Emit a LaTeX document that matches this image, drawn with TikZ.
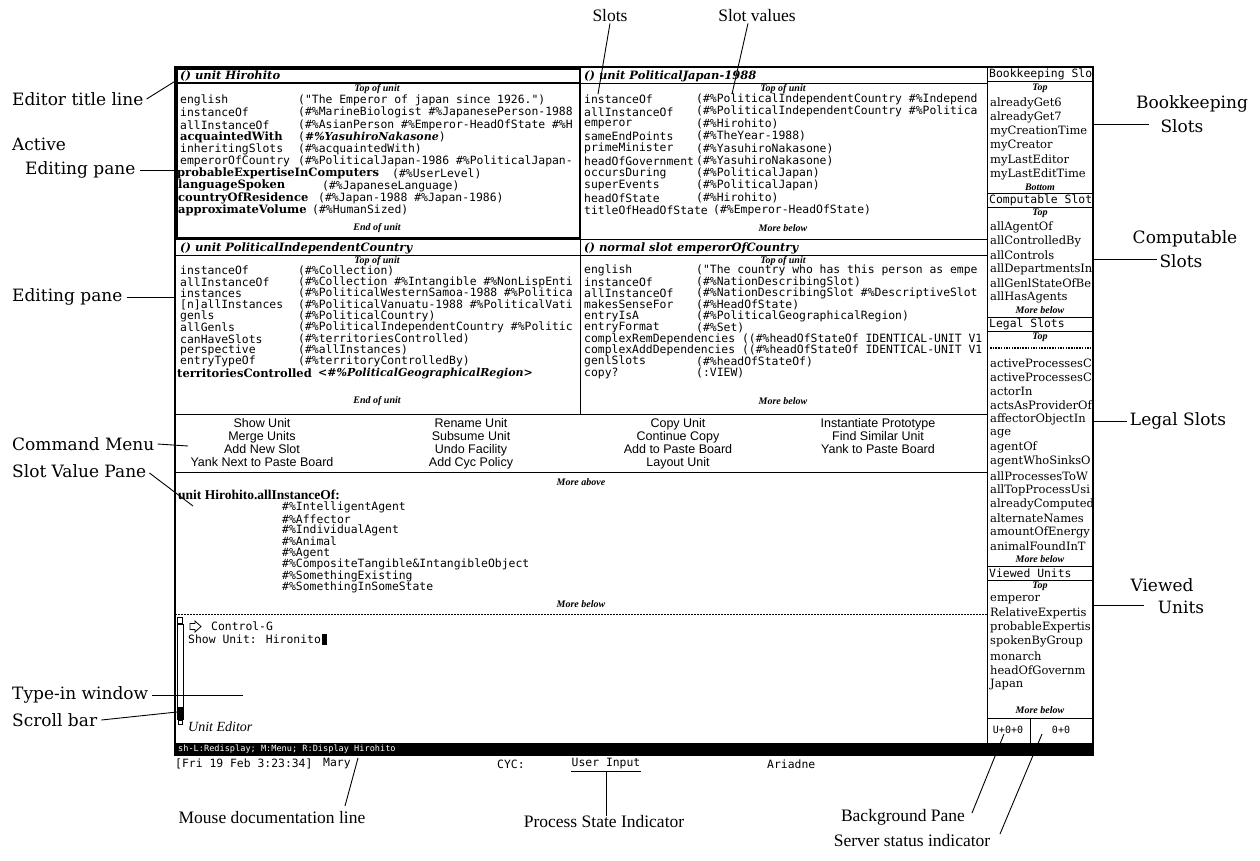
\documentclass[tikz,border=0pt]{standalone}
\usepackage{fontspec}
\setmainfont{Liberation Serif}
\newfontfamily\codefont{DejaVu Sans Mono}
\newfontfamily\menufont{Liberation Sans}
\newfontfamily\wideserif{DejaVu Serif}
\newcommand{\mycode}{\codefont\fontsize{11.4}{12}\selectfont}
\newcommand{\mybi}{\wideserif\bfseries\itshape\fontsize{11}{12}\selectfont}
\usetikzlibrary{calc}
\tikzset{
  code/.style={font=\codefont\fontsize{11.4}{12}\selectfont, anchor=west, inner sep=0pt},
  bslot/.style={font=\wideserif\bfseries\fontsize{11.5}{12}\selectfont, anchor=west, inner sep=0pt},
  ttl/.style={font=\wideserif\bfseries\itshape\fontsize{11.5}{12}\selectfont, anchor=west, inner sep=0pt},
  paneinfo/.style={font=\bfseries\itshape\fontsize{10}{11}\selectfont, inner sep=0pt},
  rcitem/.style={font=\wideserif\fontsize{11.5}{12}\selectfont, anchor=west, inner sep=0pt},
  menuitem/.style={font=\menufont\fontsize{12.5}{13}\selectfont, inner sep=0pt, text height=8.8pt, text depth=2.2pt},
  widelbl/.style={font=\wideserif\fontsize{17}{20}\selectfont, inner sep=0pt},
  lbl/.style={font=\fontsize{17.5}{20}\selectfont, inner sep=0pt},
  conn/.style={line width=0.9pt},
  rule/.style={line width=1pt},
}
\begin{document}
\begin{tikzpicture}[x=1pt,y=-1pt]
\useasboundingbox (0,0) rectangle (1260,860);
\fill[white] (0,0) rectangle (1260,860);

% ---------------- screen frame ----------------
\draw[line width=1.2pt] (175,67) rectangle (1093,755);
\draw[rule] (987,67) -- (987,743);
\draw[rule] (175,239) -- (987,239);
\draw[rule] (580,239) -- (580,414);
\draw[rule] (175,255) -- (987,255);
\draw[rule] (175,414) -- (987,414);
\draw[rule] (175,472) -- (987,472);
\draw[line width=1pt, dash pattern=on 2pt off 1pt] (175,614) -- (987,614);
\draw[rule] (580,83) -- (987,83);
\draw[line width=2.6pt] (176.3,68.3) rectangle (580,238);
\draw[line width=2pt] (176,83) -- (580,83);

% ---------------- pane titles ----------------
\node[ttl] (t1) at (180,76) {() unit Hirohito};
\node[ttl] (t2) at (584,76) {() unit PoliticalJapan-1988};
\node[ttl] (t3) at (180,248) {() unit PoliticalIndependentCountry};
\node[ttl] (t4) at (584,248) {() normal slot emperorOfCountry};

\node[paneinfo] (p1top) at (377,89) {Top of unit};
\node[paneinfo] (p1end) at (377,228) {End of unit};
\node[paneinfo] (p2top) at (783,89) {Top of unit};
\node[paneinfo] (p2end) at (783,228) {More below};
\node[paneinfo] (p3top) at (377,261) {Top of unit};
\node[paneinfo] (p3end) at (377,401) {End of unit};
\node[paneinfo] (p4top) at (783,261) {Top of unit};
\node[paneinfo] (p4end) at (783,401) {More below};

% ---------------- active pane: Hirohito ----------------
\begin{scope}
\clip (177,85) rectangle (579,237);
\foreach \i/\n/\v in {0/english/{("The Emperor of japan since 1926.")},1/instanceOf/{(\#\%MarineBiologist \#\%JapanesePerson-1988},2/allInstanceOf/{(\#\%AsianPerson \#\%Emperor-HeadOfState \#\%H},4/inheritingSlots/{(\#\%acquaintedWith)},5/emperorOfCountry/{(\#\%PoliticalJapan-1986 \#\%PoliticalJapan-}}{
  \node[code] (an\i) at (180,100.5+12.2*\i) {\n};
  \node[code] (av\i) at (298,100.5+12.2*\i) {\v};
}
\node[bslot] (an3) at (180,100.5+12.2*3) {acquaintedWith};
\node[code] (av3) at (298,100.5+12.2*3) {({\mybi\#\%YasuhiroNakasone})};
\node[bslot] (an6) at (177,100.5+12.2*6) {probableExpertiseInComputers};
\node[code] (av6) at (392,100.5+12.2*6) {(\#\%UserLevel)};
\node[bslot] (an7) at (178,100.5+12.2*7) {languageSpoken};
\node[code] (av7) at (322,100.5+12.2*7) {(\#\%JapaneseLanguage)};
\node[bslot] (an8) at (178,100.5+12.2*8) {countryOfResidence};
\node[code] (av8) at (318,100.5+12.2*8) {(\#\%Japan-1988 \#\%Japan-1986)};
\node[bslot] (an9) at (178,100.5+12.2*9) {approximateVolume};
\node[code] (av9) at (312,100.5+12.2*9) {(\#\%HumanSized)};
\end{scope}

% ---------------- pane: PoliticalJapan-1988 ----------------
\begin{scope}
\clip (581,85) rectangle (986,237);
\foreach \i/\n/\v in {0/instanceOf/{(\#\%PoliticalIndependentCountry \#\%Independ},1/allInstanceOf/{(\#\%PoliticalIndependentCountry \#\%Politica},2/emperor/{(\#\%Hirohito)},3/sameEndPoints/{(\#\%TheYear-1988)},4/primeMinister/{(\#\%YasuhiroNakasone)},5/headOfGovernment/{(\#\%YasuhiroNakasone)},6/occursDuring/{(\#\%PoliticalJapan)},7/superEvents/{(\#\%PoliticalJapan)},8/headOfState/{(\#\%Hirohito)}}{
  \node[code] (bn\i) at (584,99.5+12.3*\i) {\n};
  \node[code] (bv\i) at (696,99.5+12.3*\i) {\v};
}
\node[code] (bn9) at (584,99.5+12.3*9) {titleOfHeadOfState};
\node[code] (bv9) at (713,99.5+12.3*9) {(\#\%Emperor-HeadOfState)};
\end{scope}

% ---------------- pane: PoliticalIndependentCountry ----------------
\begin{scope}
\clip (177,257) rectangle (579,413);
\foreach \i/\n/\v in {0/instanceOf/{(\#\%Collection)},1/allInstanceOf/{(\#\%Collection \#\%Intangible \#\%NonLispEnti},2/instances/{(\#\%PoliticalWesternSamoa-1988 \#\%Politica},3/{[n]allInstances}/{(\#\%PoliticalVanuatu-1988 \#\%PoliticalVati},4/genls/{(\#\%PoliticalCountry)},5/allGenls/{(\#\%PoliticalIndependentCountry \#\%Politic},6/canHaveSlots/{(\#\%territoriesControlled)},7/perspective/{(\#\%allInstances)},8/entryTypeOf/{(\#\%territoryControlledBy)}}{
  \node[code] (cn\i) at (180,270.5+11.4*\i) {\n};
  \node[code] (cv\i) at (298,270.5+11.4*\i) {\v};
}
\node[bslot] (cn9) at (177,270.5+11.4*9) {territoriesControlled};
\node[anchor=west, inner sep=0pt, font=\mybi] (cv9) at (318,270.5+11.4*9) {<\#\%PoliticalGeographicalRegion>};
\end{scope}

% ---------------- pane: normal slot emperorOfCountry ----------------
\begin{scope}
\clip (581,257) rectangle (986,413);
\foreach \i/\n/\v in {0/english/{("The country who has this person as empe},1/instanceOf/{(\#\%NationDescribingSlot)},2/allInstanceOf/{(\#\%NationDescribingSlot \#\%DescriptiveSlot},3/makesSenseFor/{(\#\%HeadOfState)},4/entryIsA/{(\#\%PoliticalGeographicalRegion)},5/entryFormat/{(\#\%Set)},8/genlSlots/{(\#\%headOfStateOf)},9/copy?/{(:VIEW)}}{
  \node[code] (dn\i) at (584,270.5+11.4*\i) {\n};
  \node[code] (dv\i) at (696,270.5+11.4*\i) {\v};
}
\node[code] (dn6) at (584,270.5+11.4*6) {complexRemDependencies ((\#\%headOfStateOf IDENTICAL-UNIT V1};
\node[code] (dn7) at (584,270.5+11.4*7) {complexAddDependencies ((\#\%headOfStateOf IDENTICAL-UNIT V1};
\end{scope}

% ---------------- command menu ----------------
\foreach \t [count=\i from 0] in {Show Unit,Merge Units,Add New Slot,Yank Next to Paste Board}
  \node[menuitem] (ca\i) at (262,424.5+13*\i) {\t};
\foreach \t [count=\i from 0] in {Rename Unit,Subsume Unit,Undo Facility,Add Cyc Policy}
  \node[menuitem] (cb\i) at (471,424.5+13*\i) {\t};
\foreach \t [count=\i from 0] in {Copy Unit,Continue Copy,Add to Paste Board,Layout Unit}
  \node[menuitem] (cc\i) at (678,424.5+13*\i) {\t};
\foreach \t [count=\i from 0] in {Instantiate Prototype,Find Similar Unit,Yank to Paste Board}
  \node[menuitem] (cd\i) at (878,424.5+13*\i) {\t};

% ---------------- slot value pane ----------------
\node[paneinfo] (svabove) at (581,482) {More above};
\node[font=\bfseries\fontsize{13.5}{14}\selectfont, anchor=west, inner sep=0pt] (svhead) at (178,495) {unit Hirohito.allInstanceOf:};
\foreach \t [count=\i from 0] in {IntelligentAgent,Affector,IndividualAgent,Animal,Agent,CompositeTangible\&IntangibleObject,SomethingExisting,SomethingInSomeState}
  \node[code] (sv\i) at (282,507.5+11.4*\i) {\#\%\t};
\node[paneinfo] (svbelow) at (581,604) {More below};

% ---------------- type-in window ----------------
\draw[line width=0.6pt] (177,617) rectangle (182,623);
\draw[line width=0.6pt] (177.5,624) rectangle (183,707);
\fill (177,707) rectangle (184,720);
\draw[line width=0.6pt] (178,720) rectangle (182,724);
\draw[line width=0.8pt, fill=white] (190,623.5) -- (195,623.5) -- (195,621) -- (201,626.5) -- (195,632) -- (195,629.5) -- (190,629.5) -- cycle;
\node[code] (ctrlg) at (211,626.5) {Control-G};
\node[code] (showu) at (188,639.5) {Show Unit: Hironito};
\fill (322,633.5) rectangle (327,645);
\node[font=\itshape\fontsize{14}{15}\selectfont, anchor=west, inner sep=0pt] (uedit) at (188,727) {Unit Editor};

% ---------------- mouse documentation bar + status line ----------------
\fill[black] (175,743) rectangle (1093,755);
\node[font=\codefont\fontsize{8.6}{9}\selectfont, text=white, anchor=west, inner sep=0pt] (mdoc) at (178,749) {sh-L:Redisplay; M:Menu; R:Display Hirohito};
\node[code] (date) at (175,764) {[Fri 19 Feb 3:23:34]};
\node[code] (mary) at (323,764) {Mary};
\node[code] (cyc) at (497,764) {CYC:};
\node[code, anchor=center] (uinput) at (606,764) {User Input};
\draw[line width=1pt] (uinput.south west |- 0,771) -- (uinput.south east |- 0,771);
\node[code] (ariadne) at (767,764) {Ariadne};

% ---------------- right column ----------------
\begin{scope}
\clip (988,68) rectangle (1092,742);
\node[code] (bkt) at (989,74) {Bookkeeping Slo};
\node[paneinfo] (bktop) at (1040,88.5) {Top};
\foreach \t [count=\i from 0] in {alreadyGet6,alreadyGet7,myCreationTime,myCreator,myLastEditor,myLastEditTime}
  \node[rcitem] (bk\i) at (990,103.3+14.2*\i) {\t};
\node[paneinfo] (bkbot) at (1040,187) {Bottom};

\node[code] (cpt) at (989,200) {Computable Slot};
\node[paneinfo] (cptop) at (1040,213.5) {Top};
\foreach \t [count=\i from 0] in {allAgentOf,allControlledBy,allControls,allDepartmentsIn,allGenlStateOfBe,allHasAgents}
  \node[rcitem] (cp\i) at (990,227+14.1*\i) {\t};
\node[paneinfo] (cpmore) at (1040,310) {More below};

\node[code] (lgt) at (989,324) {Legal Slots};
\node[paneinfo] (lgtop) at (1040,337) {Top};
\foreach \t [count=\i from 0] in {activeProcessesC,activeProcessesC,actorIn,actsAsProviderOf,affectorObjectIn,age,agentOf,agentWhoSinksO,allProcessesToW,allTopProcessUsi,alreadyComputed,alternateNames,amountOfEnergy,animalFoundInT}
  \node[rcitem] (lg\i) at (990,363+14.1*\i) {\t};
\node[paneinfo] (lgmore) at (1040,559.5) {More below};

\node[code] (vwt) at (989,573) {Viewed Units};
\node[paneinfo] (vwtop) at (1040,586) {Top};
\foreach \t [count=\i from 0] in {emperor,RelativeExpertis,probableExpertis,spokenByGroup,monarch,headOfGovernm,Japan}
  \node[rcitem] (vw\i) at (990,599.5+14.1*\i) {\t};
\node[paneinfo] (vwmore) at (1040,710) {More below};
\end{scope}
\draw[rule] (987,81) -- (1093,81);
\draw[rule] (987,193) -- (1093,193);
\draw[rule] (987,207) -- (1093,207);
\draw[rule] (987,317) -- (1093,317);
\draw[rule] (987,331) -- (1093,331);
\draw[line width=2pt, dash pattern=on 1.5pt off 1.2pt] (990,348) -- (1091,348);
\draw[rule] (987,566) -- (1093,566);
\draw[rule] (987,580) -- (1093,580);
\draw[rule] (987,718) -- (1093,718);
\draw[rule] (1030,718) -- (1030,743);
\node[font=\codefont\fontsize{10}{11}\selectfont, inner sep=0pt] (sv1) at (1008,730) {U+0+0};
\node[font=\codefont\fontsize{10}{11}\selectfont, inner sep=0pt] (sv2) at (1061,730) {0+0};

% ---------------- left labels ----------------
\node[widelbl, anchor=west] (etl) at (12,99) {Editor title line};
\coordinate (etlE) at (177,80);
\draw[conn] ([xshift=3pt]etl.east) -- (etlE);
\node[widelbl, anchor=west] (aep1) at (12,144) {Active};
\node[widelbl, anchor=west] (aep2) at (25,170) {Editing pane};
\coordinate (aepE) at (176,170);
\draw[conn] ([xshift=4pt]aep2.east) -- (aepE);
\node[widelbl, anchor=west] (epl) at (12,297) {Editing pane};
\coordinate (eplE) at (176,297);
\draw[conn] ([xshift=4pt]epl.east) -- (eplE);
\node[widelbl, anchor=west] (cml) at (12,444) {Command Menu};
\coordinate (cmlE) at (188,446);
\draw[conn] ([xshift=3pt]cml.east) -- (cmlE);
\node[widelbl, anchor=west] (svpl) at (12,471) {Slot Value Pane};
\coordinate (svplE) at (193,506);
\draw[conn] ([xshift=3pt,yshift=-2pt]svpl.east) -- (svplE);
\node[widelbl, anchor=west] (tiwl) at (12,695) {Type-in window};
\coordinate (tiwlE) at (243,695);
\draw[conn] ([xshift=4pt]tiwl.east) -- (tiwlE);
\node[widelbl, anchor=west] (sbl) at (12,720) {Scroll bar};
\coordinate (sblE) at (177,712);
\draw[conn] ([xshift=4pt]sbl.east) -- (sblE);

% ---------------- right labels ----------------
\node[widelbl] (bkl1) at (1192,104) {Bookkeeping};
\node[widelbl] (bkl2) at (1182,126) {Slots};
\coordinate (bkA) at (1093,124); \coordinate (bkB) at (1149,124);
\draw[conn] (bkA) -- (bkB);
\node[widelbl] (cpl1) at (1185,239) {Computable};
\node[widelbl] (cpl2) at (1181,261) {Slots};
\coordinate (cpA) at (1093,259); \coordinate (cpB) at (1157,259);
\draw[conn] (cpA) -- (cpB);
\node[widelbl] (lgl) at (1178,421) {Legal Slots};
\coordinate (lgA) at (1093,421);
\draw[conn] (lgA) -- ([xshift=-3pt]lgl.west);
\node[widelbl] (vwl1) at (1162,585) {Viewed};
\node[widelbl] (vwl2) at (1181,607) {Units};
\coordinate (vwA) at (1093,605); \coordinate (vwB) at (1144,605);
\draw[conn] (vwA) -- (vwB);

% ---------------- top labels ----------------
\node[lbl] (slotsl) at (610,16) {Slots};
\coordinate (slotsE) at (598,94);
\draw[conn] ([yshift=-1pt]slotsl.south) -- (slotsE);
\node[lbl] (svall) at (757,16) {Slot values};
\coordinate (svalE) at (732,94);
\draw[conn] ([xshift=-9pt,yshift=-1pt]svall.south) -- (svalE);

% ---------------- bottom labels ----------------
\node[lbl] (mdll) at (272,817) {Mouse documentation line};
\coordinate (mdlA) at (345,806); \coordinate (mdlB) at (358,758);
\draw[conn] (mdlA) -- (mdlB);
\node[lbl] (psil) at (604,821) {Process State Indicator};
\coordinate (psiE) at (606,771);
\draw[conn] ([yshift=-1pt]psil.north -| psiE) -- (psiE);
\node[lbl] (bgpl) at (903,817) {Background Pane};
\coordinate (bgpA) at (972,813); \coordinate (bgpB) at (1004,734);
\draw[conn] (bgpA) -- (bgpB);
\node[lbl] (ssil) at (912,840) {Server status indicator};
\coordinate (ssiA) at (1000,834); \coordinate (ssiB) at (1042,734);
\draw[conn] (ssiA) -- (ssiB);
\end{tikzpicture}
\end{document}
